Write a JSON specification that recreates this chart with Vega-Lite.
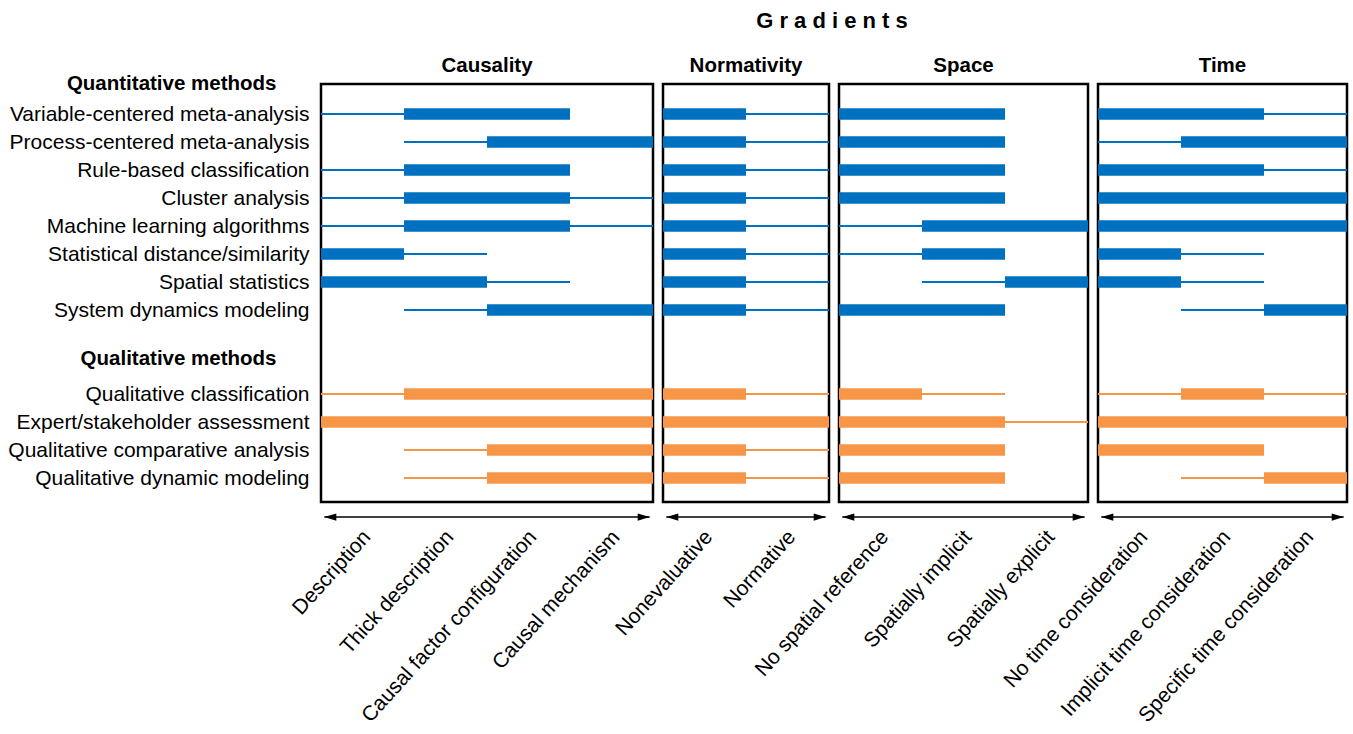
{
  "$schema": "https://vega.github.io/schema/vega-lite/v6.json",
  "padding": {"left": 6, "top": 10, "right": 4, "bottom": 4},
  "background": "white",
  "bounds": "flush",
  "title": {"text": "G r a d i e n t s", "font": "Liberation Sans", "fontSize": 22, "fontWeight": "bold", "anchor": "middle", "frame": "group", "dx": 511, "baseline": "top", "offset": 21, "color": "black"},
  "datasets": {
    "d": [
      {"g": "Causality", "m": "Variable-centered meta-analysis", "t": "Quantitative", "lo": 0, "hi": 3, "clo": 1, "chi": 3},
      {"g": "Causality", "m": "Process-centered meta-analysis", "t": "Quantitative", "lo": 1, "hi": 4, "clo": 2, "chi": 4},
      {"g": "Causality", "m": "Rule-based classification", "t": "Quantitative", "lo": 0, "hi": 3, "clo": 1, "chi": 3},
      {"g": "Causality", "m": "Cluster analysis", "t": "Quantitative", "lo": 0, "hi": 4, "clo": 1, "chi": 3},
      {"g": "Causality", "m": "Machine learning algorithms", "t": "Quantitative", "lo": 0, "hi": 4, "clo": 1, "chi": 3},
      {"g": "Causality", "m": "Statistical distance/similarity", "t": "Quantitative", "lo": 0, "hi": 2, "clo": 0, "chi": 1},
      {"g": "Causality", "m": "Spatial statistics", "t": "Quantitative", "lo": 0, "hi": 3, "clo": 0, "chi": 2},
      {"g": "Causality", "m": "System dynamics modeling", "t": "Quantitative", "lo": 1, "hi": 4, "clo": 2, "chi": 4},
      {"g": "Causality", "m": "Qualitative classification", "t": "Qualitative", "lo": 0, "hi": 4, "clo": 1, "chi": 4},
      {"g": "Causality", "m": "Expert/stakeholder assessment", "t": "Qualitative", "lo": 0, "hi": 4, "clo": 0, "chi": 4},
      {"g": "Causality", "m": "Qualitative comparative analysis", "t": "Qualitative", "lo": 1, "hi": 4, "clo": 2, "chi": 4},
      {"g": "Causality", "m": "Qualitative dynamic modeling", "t": "Qualitative", "lo": 1, "hi": 4, "clo": 2, "chi": 4},

      {"g": "Normativity", "m": "Variable-centered meta-analysis", "t": "Quantitative", "lo": 0, "hi": 2, "clo": 0, "chi": 1},
      {"g": "Normativity", "m": "Process-centered meta-analysis", "t": "Quantitative", "lo": 0, "hi": 2, "clo": 0, "chi": 1},
      {"g": "Normativity", "m": "Rule-based classification", "t": "Quantitative", "lo": 0, "hi": 2, "clo": 0, "chi": 1},
      {"g": "Normativity", "m": "Cluster analysis", "t": "Quantitative", "lo": 0, "hi": 2, "clo": 0, "chi": 1},
      {"g": "Normativity", "m": "Machine learning algorithms", "t": "Quantitative", "lo": 0, "hi": 2, "clo": 0, "chi": 1},
      {"g": "Normativity", "m": "Statistical distance/similarity", "t": "Quantitative", "lo": 0, "hi": 2, "clo": 0, "chi": 1},
      {"g": "Normativity", "m": "Spatial statistics", "t": "Quantitative", "lo": 0, "hi": 2, "clo": 0, "chi": 1},
      {"g": "Normativity", "m": "System dynamics modeling", "t": "Quantitative", "lo": 0, "hi": 2, "clo": 0, "chi": 1},
      {"g": "Normativity", "m": "Qualitative classification", "t": "Qualitative", "lo": 0, "hi": 2, "clo": 0, "chi": 1},
      {"g": "Normativity", "m": "Expert/stakeholder assessment", "t": "Qualitative", "lo": 0, "hi": 2, "clo": 0, "chi": 2},
      {"g": "Normativity", "m": "Qualitative comparative analysis", "t": "Qualitative", "lo": 0, "hi": 2, "clo": 0, "chi": 1},
      {"g": "Normativity", "m": "Qualitative dynamic modeling", "t": "Qualitative", "lo": 0, "hi": 2, "clo": 0, "chi": 1},

      {"g": "Space", "m": "Variable-centered meta-analysis", "t": "Quantitative", "lo": 0, "hi": 2, "clo": 0, "chi": 2},
      {"g": "Space", "m": "Process-centered meta-analysis", "t": "Quantitative", "lo": 0, "hi": 2, "clo": 0, "chi": 2},
      {"g": "Space", "m": "Rule-based classification", "t": "Quantitative", "lo": 0, "hi": 2, "clo": 0, "chi": 2},
      {"g": "Space", "m": "Cluster analysis", "t": "Quantitative", "lo": 0, "hi": 2, "clo": 0, "chi": 2},
      {"g": "Space", "m": "Machine learning algorithms", "t": "Quantitative", "lo": 0, "hi": 3, "clo": 1, "chi": 3},
      {"g": "Space", "m": "Statistical distance/similarity", "t": "Quantitative", "lo": 0, "hi": 2, "clo": 1, "chi": 2},
      {"g": "Space", "m": "Spatial statistics", "t": "Quantitative", "lo": 1, "hi": 3, "clo": 2, "chi": 3},
      {"g": "Space", "m": "System dynamics modeling", "t": "Quantitative", "lo": 0, "hi": 2, "clo": 0, "chi": 2},
      {"g": "Space", "m": "Qualitative classification", "t": "Qualitative", "lo": 0, "hi": 2, "clo": 0, "chi": 1},
      {"g": "Space", "m": "Expert/stakeholder assessment", "t": "Qualitative", "lo": 0, "hi": 3, "clo": 0, "chi": 2},
      {"g": "Space", "m": "Qualitative comparative analysis", "t": "Qualitative", "lo": 0, "hi": 2, "clo": 0, "chi": 2},
      {"g": "Space", "m": "Qualitative dynamic modeling", "t": "Qualitative", "lo": 0, "hi": 2, "clo": 0, "chi": 2},

      {"g": "Time", "m": "Variable-centered meta-analysis", "t": "Quantitative", "lo": 0, "hi": 3, "clo": 0, "chi": 2},
      {"g": "Time", "m": "Process-centered meta-analysis", "t": "Quantitative", "lo": 0, "hi": 3, "clo": 1, "chi": 3},
      {"g": "Time", "m": "Rule-based classification", "t": "Quantitative", "lo": 0, "hi": 3, "clo": 0, "chi": 2},
      {"g": "Time", "m": "Cluster analysis", "t": "Quantitative", "lo": 0, "hi": 3, "clo": 0, "chi": 3},
      {"g": "Time", "m": "Machine learning algorithms", "t": "Quantitative", "lo": 0, "hi": 3, "clo": 0, "chi": 3},
      {"g": "Time", "m": "Statistical distance/similarity", "t": "Quantitative", "lo": 0, "hi": 2, "clo": 0, "chi": 1},
      {"g": "Time", "m": "Spatial statistics", "t": "Quantitative", "lo": 0, "hi": 2, "clo": 0, "chi": 1},
      {"g": "Time", "m": "System dynamics modeling", "t": "Quantitative", "lo": 1, "hi": 3, "clo": 2, "chi": 3},
      {"g": "Time", "m": "Qualitative classification", "t": "Qualitative", "lo": 0, "hi": 3, "clo": 1, "chi": 2},
      {"g": "Time", "m": "Expert/stakeholder assessment", "t": "Qualitative", "lo": 0, "hi": 3, "clo": 0, "chi": 3},
      {"g": "Time", "m": "Qualitative comparative analysis", "t": "Qualitative", "lo": 0, "hi": 2, "clo": 0, "chi": 2},
      {"g": "Time", "m": "Qualitative dynamic modeling", "t": "Qualitative", "lo": 1, "hi": 3, "clo": 2, "chi": 3}
    ]
  },
  "spacing": 10,
  "resolve": {"scale": {"x": "independent", "y": "independent"}},
  "hconcat": [
    {
      "width": 332, "height": 418,
      "title": {"text": "Causality", "offset": -3},
      "layer": [
        {"data": {"name": "d"}, "transform": [{"filter": "datum.g === 'Causality'"}],
         "mark": {"type": "rule", "strokeWidth": 2},
         "encoding": {
           "y": {"field": "m", "type": "nominal", "title": null,
             "scale": {"type": "point", "padding": 0.464, "align": 0.077, "domain": ["Quantitative methods", "Variable-centered meta-analysis", "Process-centered meta-analysis", "Rule-based classification", "Cluster analysis", "Machine learning algorithms", "Statistical distance/similarity", "Spatial statistics", "System dynamics modeling", " ", "Qualitative methods", "Qualitative classification", "Expert/stakeholder assessment", "Qualitative comparative analysis", "Qualitative dynamic modeling"]},
             "axis": {
               "labelPadding": {"condition": {"test": "indexof(datum.value, 'methods') >= 0", "value": 45}, "value": 12},
               "labelFontWeight": {"condition": {"test": "indexof(datum.value, 'methods') >= 0", "value": "bold"}, "value": "normal"},
               "labelFontSize": {"condition": {"test": "indexof(datum.value, 'methods') >= 0", "value": 20.5}, "value": 21},
               "labelOffset": {"condition": [{"test": "datum.value === 'Quantitative methods'", "value": -3}, {"test": "datum.value === 'Qualitative methods'", "value": -8}], "value": 0}
             }},
           "x": {"field": "lo", "type": "quantitative", "title": null, "scale": {"domain": [0, 4], "nice": false, "zero": false},
             "axis": {"values": [0.5, 1.5, 2.5, 3.5], "labelExpr": "['Description', 'Thick description', 'Causal factor configuration', 'Causal mechanism'][floor(datum.value)]"}},
           "x2": {"field": "hi"},
           "color": {"field": "t", "type": "nominal", "legend": null, "scale": {"domain": ["Quantitative", "Qualitative"], "range": ["#0070C0", "#F79646"]}}
         }},
        {"data": {"name": "d"}, "transform": [{"filter": "datum.g === 'Causality'"}],
         "mark": {"type": "rule", "strokeWidth": 11.5, "strokeCap": "butt"},
         "encoding": {
           "y": {"field": "m", "type": "nominal", "title": null, "axis": null,
             "scale": {"type": "point", "padding": 0.464, "align": 0.077, "domain": ["Quantitative methods", "Variable-centered meta-analysis", "Process-centered meta-analysis", "Rule-based classification", "Cluster analysis", "Machine learning algorithms", "Statistical distance/similarity", "Spatial statistics", "System dynamics modeling", " ", "Qualitative methods", "Qualitative classification", "Expert/stakeholder assessment", "Qualitative comparative analysis", "Qualitative dynamic modeling"]}},
           "x": {"field": "clo", "type": "quantitative", "title": null}, "x2": {"field": "chi"},
           "color": {"field": "t", "type": "nominal", "legend": null, "scale": {"domain": ["Quantitative", "Qualitative"], "range": ["#0070C0", "#F79646"]}}
         }},
        {"data": {"values": [{"a": "arrow"}]},
         "mark": {"type": "rule", "strokeWidth": 1.5, "color": "black"},
         "encoding": {"x": {"datum": 0.04, "type": "quantitative"}, "x2": {"datum": 3.96}, "y": {"datum": -0.036, "type": "quantitative", "scale": {"domain": [0, 1]}, "axis": null}}},
        {"data": {"values": [{"a": "arrow"}]},
         "mark": {"type": "point", "shape": "M 0 0 L 2 -0.6 L 2 0.6 Z", "size": 144, "filled": true, "opacity": 1, "color": "black"},
         "encoding": {"x": {"datum": 0.04, "type": "quantitative"}, "y": {"datum": -0.036, "type": "quantitative", "scale": {"domain": [0, 1]}, "axis": null}}},
        {"data": {"values": [{"a": "arrow"}]},
         "mark": {"type": "point", "shape": "M 0 0 L -2 -0.6 L -2 0.6 Z", "size": 144, "filled": true, "opacity": 1, "color": "black"},
         "encoding": {"x": {"datum": 3.96, "type": "quantitative"}, "y": {"datum": -0.036, "type": "quantitative", "scale": {"domain": [0, 1]}, "axis": null}}}
      ],
      "resolve": {"scale": {"y": "independent"}, "axis": {"y": "independent"}}
    },
    {
      "width": 166, "height": 418,
      "title": "Normativity",
      "layer": [
        {"data": {"name": "d"}, "transform": [{"filter": "datum.g === 'Normativity'"}],
         "mark": {"type": "rule", "strokeWidth": 2},
         "encoding": {
           "y": {"field": "m", "type": "nominal", "title": null, "axis": null,
             "scale": {"type": "point", "padding": 0.464, "align": 0.077, "domain": ["Quantitative methods", "Variable-centered meta-analysis", "Process-centered meta-analysis", "Rule-based classification", "Cluster analysis", "Machine learning algorithms", "Statistical distance/similarity", "Spatial statistics", "System dynamics modeling", " ", "Qualitative methods", "Qualitative classification", "Expert/stakeholder assessment", "Qualitative comparative analysis", "Qualitative dynamic modeling"]}},
           "x": {"field": "lo", "type": "quantitative", "title": null, "scale": {"domain": [0, 2], "nice": false, "zero": false},
             "axis": {"values": [0.5, 1.5], "labelExpr": "['Nonevaluative', 'Normative'][floor(datum.value)]"}},
           "x2": {"field": "hi"},
           "color": {"field": "t", "type": "nominal", "legend": null, "scale": {"domain": ["Quantitative", "Qualitative"], "range": ["#0070C0", "#F79646"]}}
         }},
        {"data": {"name": "d"}, "transform": [{"filter": "datum.g === 'Normativity'"}],
         "mark": {"type": "rule", "strokeWidth": 11.5, "strokeCap": "butt"},
         "encoding": {
           "y": {"field": "m", "type": "nominal", "title": null, "axis": null,
             "scale": {"type": "point", "padding": 0.464, "align": 0.077, "domain": ["Quantitative methods", "Variable-centered meta-analysis", "Process-centered meta-analysis", "Rule-based classification", "Cluster analysis", "Machine learning algorithms", "Statistical distance/similarity", "Spatial statistics", "System dynamics modeling", " ", "Qualitative methods", "Qualitative classification", "Expert/stakeholder assessment", "Qualitative comparative analysis", "Qualitative dynamic modeling"]}},
           "x": {"field": "clo", "type": "quantitative", "title": null}, "x2": {"field": "chi"},
           "color": {"field": "t", "type": "nominal", "legend": null, "scale": {"domain": ["Quantitative", "Qualitative"], "range": ["#0070C0", "#F79646"]}}
         }},
        {"data": {"values": [{"a": "arrow"}]},
         "mark": {"type": "rule", "strokeWidth": 1.5, "color": "black"},
         "encoding": {"x": {"datum": 0.04, "type": "quantitative"}, "x2": {"datum": 1.96}, "y": {"datum": -0.036, "type": "quantitative", "scale": {"domain": [0, 1]}, "axis": null}}},
        {"data": {"values": [{"a": "arrow"}]},
         "mark": {"type": "point", "shape": "M 0 0 L 2 -0.6 L 2 0.6 Z", "size": 144, "filled": true, "opacity": 1, "color": "black"},
         "encoding": {"x": {"datum": 0.04, "type": "quantitative"}, "y": {"datum": -0.036, "type": "quantitative", "scale": {"domain": [0, 1]}, "axis": null}}},
        {"data": {"values": [{"a": "arrow"}]},
         "mark": {"type": "point", "shape": "M 0 0 L -2 -0.6 L -2 0.6 Z", "size": 144, "filled": true, "opacity": 1, "color": "black"},
         "encoding": {"x": {"datum": 1.96, "type": "quantitative"}, "y": {"datum": -0.036, "type": "quantitative", "scale": {"domain": [0, 1]}, "axis": null}}}
      ],
      "resolve": {"scale": {"y": "independent"}, "axis": {"y": "independent"}}
    },
    {
      "width": 249, "height": 418,
      "title": "Space",
      "layer": [
        {"data": {"name": "d"}, "transform": [{"filter": "datum.g === 'Space'"}],
         "mark": {"type": "rule", "strokeWidth": 2},
         "encoding": {
           "y": {"field": "m", "type": "nominal", "title": null, "axis": null,
             "scale": {"type": "point", "padding": 0.464, "align": 0.077, "domain": ["Quantitative methods", "Variable-centered meta-analysis", "Process-centered meta-analysis", "Rule-based classification", "Cluster analysis", "Machine learning algorithms", "Statistical distance/similarity", "Spatial statistics", "System dynamics modeling", " ", "Qualitative methods", "Qualitative classification", "Expert/stakeholder assessment", "Qualitative comparative analysis", "Qualitative dynamic modeling"]}},
           "x": {"field": "lo", "type": "quantitative", "title": null, "scale": {"domain": [0, 3], "nice": false, "zero": false},
             "axis": {"values": [0.5, 1.5, 2.5], "labelExpr": "['No spatial reference', 'Spatially implicit', 'Spatially explicit'][floor(datum.value)]"}},
           "x2": {"field": "hi"},
           "color": {"field": "t", "type": "nominal", "legend": null, "scale": {"domain": ["Quantitative", "Qualitative"], "range": ["#0070C0", "#F79646"]}}
         }},
        {"data": {"name": "d"}, "transform": [{"filter": "datum.g === 'Space'"}],
         "mark": {"type": "rule", "strokeWidth": 11.5, "strokeCap": "butt"},
         "encoding": {
           "y": {"field": "m", "type": "nominal", "title": null, "axis": null,
             "scale": {"type": "point", "padding": 0.464, "align": 0.077, "domain": ["Quantitative methods", "Variable-centered meta-analysis", "Process-centered meta-analysis", "Rule-based classification", "Cluster analysis", "Machine learning algorithms", "Statistical distance/similarity", "Spatial statistics", "System dynamics modeling", " ", "Qualitative methods", "Qualitative classification", "Expert/stakeholder assessment", "Qualitative comparative analysis", "Qualitative dynamic modeling"]}},
           "x": {"field": "clo", "type": "quantitative", "title": null}, "x2": {"field": "chi"},
           "color": {"field": "t", "type": "nominal", "legend": null, "scale": {"domain": ["Quantitative", "Qualitative"], "range": ["#0070C0", "#F79646"]}}
         }},
        {"data": {"values": [{"a": "arrow"}]},
         "mark": {"type": "rule", "strokeWidth": 1.5, "color": "black"},
         "encoding": {"x": {"datum": 0.04, "type": "quantitative"}, "x2": {"datum": 2.96}, "y": {"datum": -0.036, "type": "quantitative", "scale": {"domain": [0, 1]}, "axis": null}}},
        {"data": {"values": [{"a": "arrow"}]},
         "mark": {"type": "point", "shape": "M 0 0 L 2 -0.6 L 2 0.6 Z", "size": 144, "filled": true, "opacity": 1, "color": "black"},
         "encoding": {"x": {"datum": 0.04, "type": "quantitative"}, "y": {"datum": -0.036, "type": "quantitative", "scale": {"domain": [0, 1]}, "axis": null}}},
        {"data": {"values": [{"a": "arrow"}]},
         "mark": {"type": "point", "shape": "M 0 0 L -2 -0.6 L -2 0.6 Z", "size": 144, "filled": true, "opacity": 1, "color": "black"},
         "encoding": {"x": {"datum": 2.96, "type": "quantitative"}, "y": {"datum": -0.036, "type": "quantitative", "scale": {"domain": [0, 1]}, "axis": null}}}
      ],
      "resolve": {"scale": {"y": "independent"}, "axis": {"y": "independent"}}
    },
    {
      "width": 249, "height": 418,
      "title": "Time",
      "layer": [
        {"data": {"name": "d"}, "transform": [{"filter": "datum.g === 'Time'"}],
         "mark": {"type": "rule", "strokeWidth": 2},
         "encoding": {
           "y": {"field": "m", "type": "nominal", "title": null, "axis": null,
             "scale": {"type": "point", "padding": 0.464, "align": 0.077, "domain": ["Quantitative methods", "Variable-centered meta-analysis", "Process-centered meta-analysis", "Rule-based classification", "Cluster analysis", "Machine learning algorithms", "Statistical distance/similarity", "Spatial statistics", "System dynamics modeling", " ", "Qualitative methods", "Qualitative classification", "Expert/stakeholder assessment", "Qualitative comparative analysis", "Qualitative dynamic modeling"]}},
           "x": {"field": "lo", "type": "quantitative", "title": null, "scale": {"domain": [0, 3], "nice": false, "zero": false},
             "axis": {"values": [0.5, 1.5, 2.5], "labelExpr": "['No time consideration', 'Implicit time consideration', 'Specific time consideration'][floor(datum.value)]"}},
           "x2": {"field": "hi"},
           "color": {"field": "t", "type": "nominal", "legend": null, "scale": {"domain": ["Quantitative", "Qualitative"], "range": ["#0070C0", "#F79646"]}}
         }},
        {"data": {"name": "d"}, "transform": [{"filter": "datum.g === 'Time'"}],
         "mark": {"type": "rule", "strokeWidth": 11.5, "strokeCap": "butt"},
         "encoding": {
           "y": {"field": "m", "type": "nominal", "title": null, "axis": null,
             "scale": {"type": "point", "padding": 0.464, "align": 0.077, "domain": ["Quantitative methods", "Variable-centered meta-analysis", "Process-centered meta-analysis", "Rule-based classification", "Cluster analysis", "Machine learning algorithms", "Statistical distance/similarity", "Spatial statistics", "System dynamics modeling", " ", "Qualitative methods", "Qualitative classification", "Expert/stakeholder assessment", "Qualitative comparative analysis", "Qualitative dynamic modeling"]}},
           "x": {"field": "clo", "type": "quantitative", "title": null}, "x2": {"field": "chi"},
           "color": {"field": "t", "type": "nominal", "legend": null, "scale": {"domain": ["Quantitative", "Qualitative"], "range": ["#0070C0", "#F79646"]}}
         }},
        {"data": {"values": [{"a": "arrow"}]},
         "mark": {"type": "rule", "strokeWidth": 1.5, "color": "black"},
         "encoding": {"x": {"datum": 0.04, "type": "quantitative"}, "x2": {"datum": 2.96}, "y": {"datum": -0.036, "type": "quantitative", "scale": {"domain": [0, 1]}, "axis": null}}},
        {"data": {"values": [{"a": "arrow"}]},
         "mark": {"type": "point", "shape": "M 0 0 L 2 -0.6 L 2 0.6 Z", "size": 144, "filled": true, "opacity": 1, "color": "black"},
         "encoding": {"x": {"datum": 0.04, "type": "quantitative"}, "y": {"datum": -0.036, "type": "quantitative", "scale": {"domain": [0, 1]}, "axis": null}}},
        {"data": {"values": [{"a": "arrow"}]},
         "mark": {"type": "point", "shape": "M 0 0 L -2 -0.6 L -2 0.6 Z", "size": 144, "filled": true, "opacity": 1, "color": "black"},
         "encoding": {"x": {"datum": 2.96, "type": "quantitative"}, "y": {"datum": -0.036, "type": "quantitative", "scale": {"domain": [0, 1]}, "axis": null}}}
      ],
      "resolve": {"scale": {"y": "independent"}, "axis": {"y": "independent"}}
    }
  ],
  "config": {
    "font": "Liberation Sans",
    "view": {"stroke": "black", "strokeWidth": 2.5},
    "title": {"font": "Liberation Sans", "fontSize": 20.5, "fontWeight": "bold", "color": "black", "anchor": "middle", "baseline": "alphabetic", "offset": 8},
    "axis": {"labelFont": "Liberation Sans", "labelColor": "black", "grid": false, "ticks": false, "domain": false, "tickSize": 0, "labelLimit": 600, "labelOverlap": false, "labelBound": false},
    "axisX": {"labelAngle": -48, "labelAlign": "right", "labelBaseline": "top", "labelFontSize": 21, "labelPadding": 24, "labelOffset": -4},
    "axisY": {"labelAlign": "right", "labelBaseline": "middle"}
  }
}
